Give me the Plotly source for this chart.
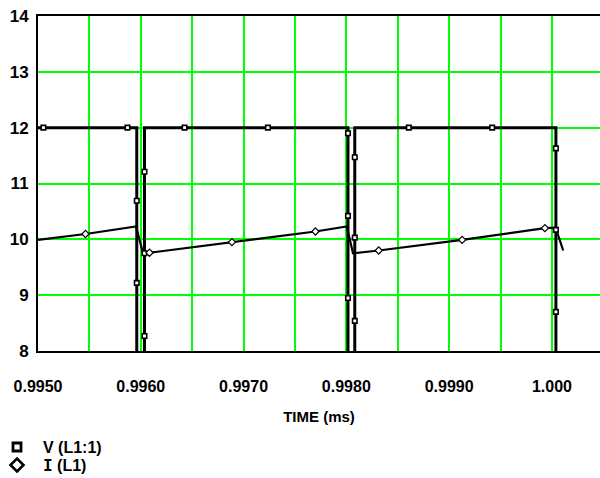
import plotly.graph_objects as go

# ---- data (time in ms) ----
v_line_t = [0.995000, 0.995961, 0.995961, 0.996036, 0.996036, 0.998016, 0.998016,
            0.998082, 0.998082, 1.000039, 1.000039, 1.000470]
v_line_v = [12, 12, 0, 0, 12, 12, 0, 0, 12, 12, 0, 0]

v_mark_t = [0.995053, 0.995871, 0.995961, 0.995961, 0.996036, 0.996036, 0.996036,
            0.996426, 0.997237, 0.998016, 0.998016, 0.998016, 0.998082, 0.998082,
            0.998082, 0.998608, 0.999419, 1.000039, 1.000039, 1.000039]
v_mark_v = [12, 12, 10.69, 9.22, 11.21, 9.75, 8.27, 12, 12, 11.9, 10.42, 8.95,
            11.47, 10.03, 8.54, 12, 12, 11.63, 10.17, 8.70]

i_line_t = [0.995000, 0.995462, 0.995954, 0.996022, 0.996085, 0.996887, 0.997699,
            0.998004, 0.998065, 0.998315, 0.999127, 0.999932, 1.000036, 1.000110]
i_line_v = [9.99, 10.095, 10.23, 9.75, 9.76, 9.95, 10.14, 10.23, 9.75, 9.80,
            9.99, 10.20, 10.21, 9.80]

i_mark_t = [0.995462, 0.996085, 0.996887, 0.997699, 0.998315, 0.999127, 0.999932]
i_mark_v = [10.095, 9.76, 9.95, 10.14, 9.80, 9.99, 10.20]

x_grid = [0.9950, 0.9955, 0.9960, 0.9965, 0.9970, 0.9975, 0.9980, 0.9985,
          0.9990, 0.9995, 1.0000]
x_labels = ["0.9950", "", "0.9960", "", "0.9970", "", "0.9980", "",
            "0.9990", "", "1.000"]
y_ticks = [8, 9, 10, 11, 12, 13, 14]
y_labels = ["8", "9", "10", "11", "12", "13", "14"]

series_names = ["V (L1:1)", "<span style='font-family:DejaVu Sans Mono'>I</span> (L1)"]

FONT = "Liberation Sans, Arial, sans-serif"
GREEN = "#00ff00"

W, H = 600, 478
ML, MR, MT, MB = 38, 0, 16, 127
PW, PH = W - ML - MR, H - MT - MB


def px(xp):
    return (xp - ML) / PW


def py(yp):
    return (H - MB - yp) / PH


def b(s):
    return f"<b>{s}</b>" if s else ""


fig = go.Figure()
fig.add_trace(go.Scatter(x=v_line_t, y=v_line_v, mode="lines",
                         line=dict(color="black", width=3), showlegend=False,
                         hoverinfo="skip"))
fig.add_trace(go.Scatter(x=i_line_t, y=i_line_v, mode="lines",
                         line=dict(color="black", width=2.2), showlegend=False,
                         hoverinfo="skip"))
fig.add_trace(go.Scatter(x=v_mark_t, y=v_mark_v, mode="markers",
                         marker=dict(symbol="square", size=4.5, color="white",
                                     line=dict(color="black", width=1.6)),
                         showlegend=False))
fig.add_trace(go.Scatter(x=i_mark_t, y=i_mark_v, mode="markers",
                         marker=dict(symbol="diamond", size=5.5, color="white",
                                     line=dict(color="black", width=1.2)),
                         showlegend=False))

# legend drawn as shapes + text
leg_y = [447, 465]
shapes = [
    dict(type="rect", xref="paper", yref="paper", xsizemode="pixel", ysizemode="pixel",
         xanchor=px(17), yanchor=py(leg_y[0]), x0=-4, x1=4, y0=-4, y1=4,
         line=dict(color="black", width=2.8), fillcolor="white"),
    dict(type="path", xref="paper", yref="paper", xsizemode="pixel", ysizemode="pixel",
         xanchor=px(17), yanchor=py(leg_y[1]),
         path="M 0 -6.5 L 6.5 0 L 0 6.5 L -6.5 0 Z",
         line=dict(color="black", width=2.6), fillcolor="white"),
]
annotations = [
    dict(text=b(series_names[k]), xref="paper", yref="paper", x=px(41), y=py(leg_y[k]),
         xanchor="left", yanchor="middle", showarrow=False,
         font=dict(family=FONT, size=16, color="black"))
    for k in range(2)
]

fig.update_layout(
    width=W, height=H,
    margin=dict(l=ML, r=MR, t=MT, b=MB),
    plot_bgcolor="white", paper_bgcolor="white",
    font=dict(family=FONT, size=16, color="black"),
    showlegend=False,
    shapes=shapes, annotations=annotations,
    xaxis=dict(range=[0.995, 1.000468], tickvals=x_grid,
               ticktext=[b(s) for s in x_labels], automargin=False,
               showgrid=True, gridcolor=GREEN, gridwidth=2,
               showline=True, linecolor="black", linewidth=2, mirror=True,
               ticks="", ticklabelstandoff=20, zeroline=False,
               tickfont=dict(family=FONT, size=16),
               title=dict(text="<b>TIME (ms)</b>", standoff=17,
                          font=dict(family=FONT, size=15))),
    yaxis=dict(range=[8, 14], tickvals=y_ticks,
               ticktext=[b(s) for s in y_labels], automargin=False,
               showgrid=True, gridcolor=GREEN, gridwidth=2,
               showline=True, linecolor="black", linewidth=2, mirror=False,
               ticks="", zeroline=False, ticklabelstandoff=4,
               tickfont=dict(family=FONT, size=17)),
)

fig.write_html("out.html", config={"displayModeBar": False},
               post_script="document.body.style.margin='0';document.body.style.overflow='hidden';")
